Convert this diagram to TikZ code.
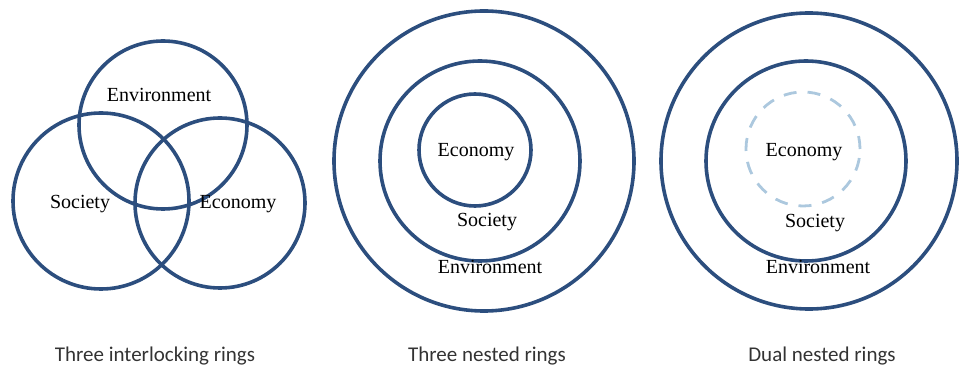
\documentclass[tikz,border=0pt]{standalone}
\usepackage{fontspec}
\setmainfont{Liberation Serif}
\newfontfamily\captionfont{Carlito}
\definecolor{ringblue}{RGB}{44,78,126}
\definecolor{dashblue}{RGB}{172,200,222}
\tikzset{
  ring/.style={draw=ringblue, line width=3.6pt},
  ghostring/.style={draw=dashblue, line width=2.8pt, dash pattern=on 13pt off 11pt},
  ringtext/.style={font=\fontsize{20}{23}\selectfont, text=black},
  captiontext/.style={font=\captionfont\fontsize{21}{24}\selectfont, text=black!80, anchor=base}
}
\begin{document}
\begin{tikzpicture}[x=1pt,y=-1pt]
    \useasboundingbox (0,0) rectangle (959,366);
    % Three interlocking rings
    \draw[ring] (163,125) circle (84pt);
    \draw[ring] (101,201) circle (88pt);
    \draw[ring] (220,203) circle (85pt);
    \node[ringtext] (venv) at (159,95) {Environment};
    \node[ringtext] (vsoc) at (80,204) {Society};
    \node[ringtext] (veco) at (238,204) {Economy};
    % Three nested rings
    \draw[ring] (484,161) circle (150pt);
    \draw[ring] (480,161) circle (100pt);
    \draw[ring] (475,150) circle (56pt);
    \node[ringtext] (neco) at (476,152) {Economy};
    \node[ringtext] (nsoc) at (487,222) {Society};
    \node[ringtext] (nenv) at (490,267) {Environment};
    % Dual nested rings
    \draw[ring] (809,161) circle (148pt);
    \draw[ring] (806,161) circle (100pt);
    \draw[ghostring] (803,149) circle (57pt);
    \node[ringtext] (deco) at (804,152) {Economy};
    \node[ringtext] (dsoc) at (815,223) {Society};
    \node[ringtext] (denv) at (818,267) {Environment};
    % captions
    \foreach \x/\name/\txt in {155/cint/Three interlocking rings,487/cnest/Three nested rings,822/cdual/Dual nested rings}
    {
        \node[captiontext] (\name) at (\x,361) {\txt};
    }
\end{tikzpicture}
\end{document}
